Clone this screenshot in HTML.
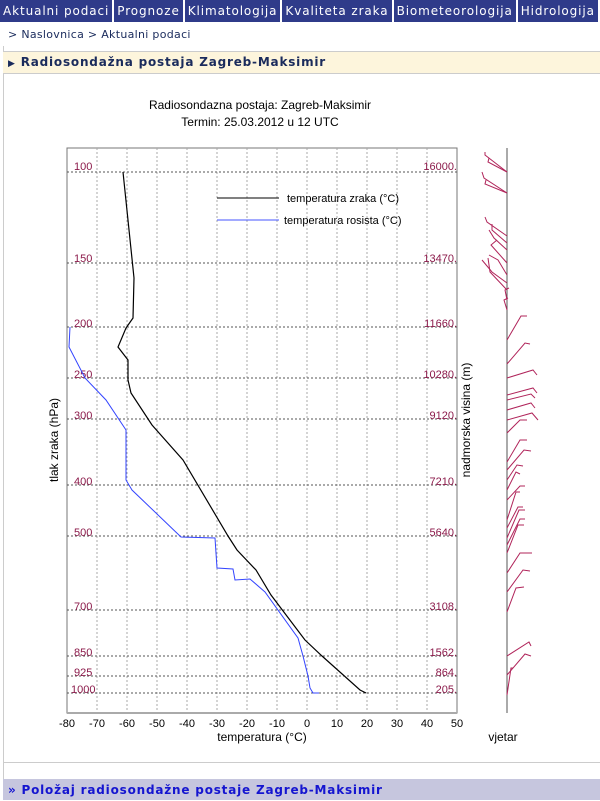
<!DOCTYPE html>
<html><head><style>
body{margin:0;width:600px;height:800px;overflow:hidden;background:#fff;font-family:"DejaVu Sans","Liberation Sans",sans-serif;position:relative}
.nav{position:absolute;top:0;left:0;width:600px;height:22px;background:#fff;white-space:nowrap;overflow:hidden}
.nav span{display:inline-block;background:#2f3b8a;color:#fff;font-size:12px;height:22px;line-height:22px;padding:0 3px;margin-right:2px;letter-spacing:.9px}
.bc{position:absolute;top:28px;left:8px;font-size:11px;color:#1a2b5c;letter-spacing:.3px}
.yb{position:absolute;top:51px;left:3px;width:597px;height:21px;background:#fdf5dc;border-top:1px solid #ccc;border-bottom:1px solid #ccc;font-size:12px;font-weight:bold;color:#1a2b5c;line-height:21px;letter-spacing:.8px}
.bb{position:absolute;top:779px;left:3px;width:597px;height:21px;background:#c6c6de;font-size:12px;font-weight:bold;color:#1515d0;line-height:22px;letter-spacing:.8px}
</style></head><body>
<div class="nav"><span>Aktualni podaci</span><span>Prognoze</span><span>Klimatologija</span><span>Kvaliteta zraka</span><span>Biometeorologija</span><span>Hidrologija</span></div>
<div class="bc">&gt; Naslovnica &gt; Aktualni podaci</div>
<div style="position:absolute;left:3px;top:46px;width:1px;height:754px;background:#ccc"></div>
<div class="yb">&nbsp;<span style="font-size:9px">▶</span>&nbsp;Radiosondažna postaja Zagreb-Maksimir</div>
<div style="position:absolute;left:3px;top:762px;width:597px;height:1px;background:#ccc"></div>
<div class="bb">&nbsp;»&nbsp;Položaj radiosondažne postaje Zagreb-Maksimir</div>
<svg style="position:absolute;left:0;top:0" width="600" height="800" font-family="Liberation Sans, sans-serif">
<text x="260" y="109" font-size="12" text-anchor="middle">Radiosondazna postaja: Zagreb-Maksimir</text>
<text x="260" y="126" font-size="12" text-anchor="middle">Termin: 25.03.2012 u 12 UTC</text>
<rect x="67" y="148" width="390" height="565" fill="none" stroke="#777"/>
<line x1="67" y1="713" x2="457" y2="713" stroke="#aaa" stroke-width="2"/>
<g stroke="#aaa" stroke-dasharray="2,2">
<line x1="97" y1="148" x2="97" y2="713"/><line x1="127" y1="148" x2="127" y2="713"/><line x1="157" y1="148" x2="157" y2="713"/><line x1="187" y1="148" x2="187" y2="713"/><line x1="217" y1="148" x2="217" y2="713"/><line x1="247" y1="148" x2="247" y2="713"/><line x1="277" y1="148" x2="277" y2="713"/><line x1="307" y1="148" x2="307" y2="713"/><line x1="337" y1="148" x2="337" y2="713"/><line x1="367" y1="148" x2="367" y2="713"/><line x1="397" y1="148" x2="397" y2="713"/><line x1="427" y1="148" x2="427" y2="713"/>
</g>
<g stroke="#555" stroke-dasharray="2,2">
<line x1="67" y1="172" x2="457" y2="172"/><line x1="67" y1="263" x2="457" y2="263"/><line x1="67" y1="327" x2="457" y2="327"/><line x1="67" y1="378" x2="457" y2="378"/><line x1="67" y1="419" x2="457" y2="419"/><line x1="67" y1="485" x2="457" y2="485"/><line x1="67" y1="536" x2="457" y2="536"/><line x1="67" y1="610" x2="457" y2="610"/><line x1="67" y1="656" x2="457" y2="656"/><line x1="67" y1="676" x2="457" y2="676"/><line x1="67" y1="693" x2="457" y2="693"/>
</g>
<g fill="#8b1a4a" font-size="11">
<text x="74" y="170">100</text><text x="74" y="262">150</text><text x="74" y="327">200</text><text x="74" y="378">250</text><text x="74" y="419">300</text><text x="74" y="485">400</text><text x="74" y="536">500</text><text x="74" y="610">700</text><text x="74" y="656">850</text><text x="74" y="676">925</text><text x="71" y="693">1000</text>
<g text-anchor="end"><text x="457" y="170">16000.</text><text x="457" y="262">13470.</text><text x="457" y="327">11660.</text><text x="457" y="378">10280.</text><text x="457" y="419">9120.</text><text x="457" y="485">7210.</text><text x="457" y="536">5640.</text><text x="457" y="610">3108.</text><text x="457" y="656">1562.</text><text x="457" y="676">864.</text><text x="457" y="693">205.</text></g>
</g>
<g font-size="11" text-anchor="middle"><text x="67" y="727">-80</text><text x="97" y="727">-70</text><text x="127" y="727">-60</text><text x="157" y="727">-50</text><text x="187" y="727">-40</text><text x="217" y="727">-30</text><text x="247" y="727">-20</text><text x="277" y="727">-10</text><text x="307" y="727">0</text><text x="337" y="727">10</text><text x="367" y="727">20</text><text x="397" y="727">30</text><text x="427" y="727">40</text><text x="457" y="727">50</text></g>
<text x="262" y="741" font-size="12" text-anchor="middle">temperatura (°C)</text>
<text x="503" y="741" font-size="12" text-anchor="middle">vjetar</text>
<text transform="translate(58,440) rotate(-90)" font-size="12" text-anchor="middle">tlak zraka (hPa)</text>
<text transform="translate(470,420) rotate(-90)" font-size="12" text-anchor="middle">nadmorska visina (m)</text>
<line x1="217" y1="198" x2="279" y2="198" stroke="#000"/><text x="287" y="202" font-size="11">temperatura zraka (°C)</text>
<line x1="217" y1="220" x2="279" y2="220" stroke="#4455ff"/><text x="284" y="224" font-size="11">temperatura rosista (°C)</text>
<polyline fill="none" stroke="#000" stroke-width="1.2" points="123,172 134,278 133,318 126,328 118,347 128,360 128,380 131,393 152,425 183,460 228,536 237,550 256,570 271,595 305,640 322,656 360,690 366,693"/>
<polyline fill="none" stroke="#3344ff" points="70,327 69,347 85,378 106,400 126,430 126,480 132,490 181,537 215,538 217,568 233,569 235,580 250,579 265,592 298,638 303,656 308,676 310,688 313,693 319,693"/>
<line x1="507" y1="148" x2="507" y2="713" stroke="#555"/>
<g stroke="#b0245a" fill="none">
<polyline points="507,172 485,155 485,152"/><polyline points="507,172 488,162 489,158"/><polyline points="507,193 484,178 482,172"/><polyline points="507,193 485,184 486,180"/>
<polyline points="507,236 487,222 485,217"/><polyline points="507,243 492,230 492,224"/><polyline points="507,250 494,238 489,230"/><polyline points="507,263 491,245 497,240"/><polyline points="507,275 498,260 489,255"/><polyline points="507,283 492,272 482,260"/><polyline points="507,290 490,272 488,258"/><polyline points="507,300 505,290 509,288"/><polyline points="507,310 504,300 508,298"/>
<polyline points="507,340 521,316 527,316"/><polyline points="507,364 525,343 530,344"/><polyline points="507,378 533,370 537,375"/><polyline points="507,395 533,388 537,393"/><polyline points="507,400 531,394 535,398"/><polyline points="507,410 531,403 535,408"/><polyline points="507,420 532,413 538,420"/>
<polyline points="507,433 520,420 527,420"/><polyline points="507,462 520,440 527,440"/><polyline points="507,470 524,450 531,451"/><polyline points="507,480 517,465 523,466"/><polyline points="507,490 516,472 520,474"/><polyline points="507,500 520,486 525,486"/>
<polyline points="507,520 516,492 520,492"/><polyline points="507,528 518,507 523,507"/><polyline points="507,538 519,510 525,510"/><polyline points="507,545 520,519 525,519"/><polyline points="507,553 518,525 524,525"/>
<polyline points="507,573 520,553 532,553"/><polyline points="507,592 523,570 530,571"/><polyline points="507,612 516,588 524,587"/>
<polyline points="507,656 529,642 531,646"/><polyline points="507,675 525,654 531,656"/><polyline points="507,695 511,668 513,668"/>
</g>
</svg>
</body></html>
